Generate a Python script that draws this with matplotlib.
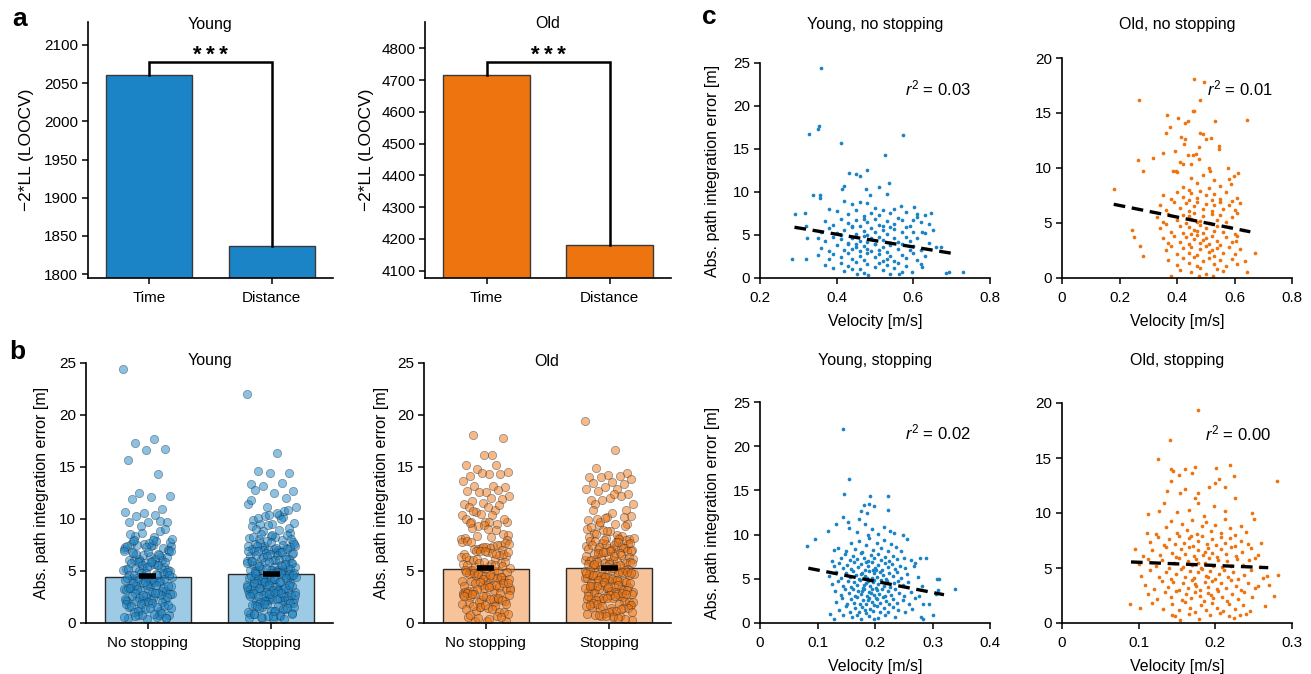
import numpy as np
import matplotlib
matplotlib.use("Agg")
import matplotlib.pyplot as plt

plt.rcParams['font.family'] = ['Liberation Sans', 'DejaVu Sans']
plt.rcParams['mathtext.fontset'] = 'custom'
plt.rcParams['mathtext.rm'] = 'Liberation Sans'
plt.rcParams['mathtext.it'] = 'Liberation Sans:italic'

BLUE = '#1b84c6'
ORANGE = '#ee7410'
LIGHT_BLUE = '#9dcbe6'
LIGHT_ORANGE = '#f7c39a'
FS = 11
LFS = 11.5

# panel a: model comparison
model_names = ['Time', 'Distance']
young_ll = [2060, 1837]
old_ll = [4715, 4180]
young_bracket = 2078
old_bracket = 4757

# panel b: bar heights and means
cond_names = ['No stopping', 'Stopping']
young_bar = [4.45, 4.7]
old_bar = [5.2, 5.25]
young_mean = [4.5, 4.75]
old_mean = [5.3, 5.3]

# panel c: (velocity, error)
young_nostop = [
    (0.359, 24.4), (0.355, 17.7), (0.351, 17.3), (0.329, 16.7), (0.574, 16.6), (0.411, 15.7),
    (0.525, 14.3), (0.480, 12.5), (0.432, 12.2), (0.450, 12.1), (0.460, 11.9), (0.537, 11.0),
    (0.510, 10.6), (0.420, 10.7), (0.413, 10.4), (0.476, 10.3), (0.357, 9.7), (0.337, 9.7),
    (0.487, 9.7), (0.530, 9.8), (0.357, 9.3), (0.290, 7.4), (0.317, 7.5), (0.320, 6.1),
    (0.322, 4.7), (0.284, 2.2), (0.319, 2.2), (0.685, 0.6), (0.694, 0.75), (0.729, 0.75),
    (0.671, 3.6), (0.647, 7.6), (0.641, 6.3), (0.622, 5.3), (0.609, 7.1), (0.602, 8.3),
    (0.569, 8.4), (0.452, 0.5), (0.483, 0.4), (0.563, 0.5), (0.596, 0.75), (0.623, 1.3),
    (0.40, 7.8), (0.43, 7.4), (0.45, 7.9), (0.47, 7.2), (0.49, 7.6), (0.51, 7.3), (0.52, 7.9),
    (0.54, 7.5), (0.56, 7.0), (0.58, 7.7), (0.44, 8.6), (0.46, 8.8), (0.48, 8.7), (0.50, 8.1),
    (0.55, 8.0), (0.38, 8.0), (0.42, 9.0), (0.63, 7.3), (0.61, 7.4),
    (0.37, 6.6), (0.39, 6.2), (0.41, 6.9), (0.43, 6.4), (0.45, 6.8), (0.46, 6.1), (0.48, 6.5),
    (0.50, 6.9), (0.51, 6.2), (0.53, 6.6), (0.55, 6.3), (0.57, 6.8), (0.59, 6.1), (0.62, 6.5),
    (0.44, 6.0), (0.47, 6.9), (0.52, 6.0), (0.60, 6.7),
    (0.36, 5.4), (0.38, 5.8), (0.40, 5.2), (0.42, 5.6), (0.44, 5.9), (0.45, 5.1), (0.47, 5.5),
    (0.49, 5.8), (0.50, 5.3), (0.52, 5.6), (0.53, 5.1), (0.55, 5.7), (0.57, 5.3), (0.58, 5.9),
    (0.60, 5.4), (0.63, 5.2), (0.65, 5.6), (0.41, 5.0), (0.48, 5.0), (0.54, 5.9),
    (0.37, 4.3), (0.39, 4.8), (0.41, 4.5), (0.43, 4.1), (0.44, 4.7), (0.46, 4.3), (0.47, 4.9),
    (0.48, 4.2), (0.49, 4.6), (0.50, 4.0), (0.51, 4.8), (0.52, 4.4), (0.54, 4.1), (0.55, 4.6),
    (0.56, 4.2), (0.58, 4.8), (0.59, 4.3), (0.61, 4.6), (0.64, 4.1), (0.35, 4.6), (0.45, 4.0),
    (0.36, 3.5), (0.38, 3.1), (0.40, 3.8), (0.42, 3.3), (0.43, 3.9), (0.45, 3.6), (0.46, 3.1),
    (0.47, 3.7), (0.48, 3.4), (0.50, 3.9), (0.51, 3.2), (0.52, 3.6), (0.53, 3.0), (0.54, 3.8),
    (0.56, 3.4), (0.57, 3.9), (0.59, 3.2), (0.60, 3.7), (0.62, 3.3), (0.66, 3.6), (0.49, 3.1),
    (0.44, 3.4),
    (0.35, 2.7), (0.38, 2.2), (0.39, 2.8), (0.41, 2.4), (0.43, 2.9), (0.44, 2.2), (0.46, 2.6),
    (0.47, 2.1), (0.48, 2.9), (0.50, 2.4), (0.51, 2.8), (0.53, 2.2), (0.54, 2.6), (0.55, 2.0),
    (0.57, 2.7), (0.58, 2.3), (0.60, 2.9), (0.61, 2.1), (0.63, 2.5), (0.52, 2.0),
    (0.37, 1.5), (0.39, 1.2), (0.41, 1.8), (0.43, 1.4), (0.45, 1.9), (0.46, 1.1), (0.48, 1.6),
    (0.50, 1.3), (0.51, 1.8), (0.53, 1.5), (0.55, 1.2), (0.56, 1.7), (0.58, 1.4), (0.62, 1.6),
    (0.44, 1.0), (0.42, 0.8), (0.47, 0.6), (0.52, 0.9), (0.57, 0.7), (0.54, 0.5),
]

old_nostop = [
    (0.180, 8.1), (0.269, 16.2), (0.460, 18.1), (0.495, 17.8), (0.479, 16.2), (0.454, 15.2),
    (0.460, 15.2), (0.365, 14.8), (0.405, 14.5), (0.437, 14.3), (0.429, 14.1), (0.531, 14.3),
    (0.645, 14.4), (0.374, 13.7), (0.362, 13.2), (0.481, 13.2), (0.490, 13.1), (0.502, 12.6),
    (0.518, 12.7), (0.415, 12.8), (0.429, 12.6), (0.425, 12.2), (0.547, 12.0), (0.547, 11.7),
    (0.477, 11.9), (0.394, 11.5), (0.353, 11.4), (0.318, 10.9), (0.266, 10.7), (0.281, 9.7),
    (0.438, 11.2), (0.457, 11.2), (0.467, 11.3), (0.409, 10.5), (0.420, 10.4), (0.449, 10.4),
    (0.478, 10.8), (0.512, 10.0), (0.516, 9.7), (0.577, 10.0), (0.611, 9.5), (0.597, 9.3),
    (0.588, 8.5), (0.386, 9.7), (0.397, 9.7), (0.243, 4.4), (0.249, 3.7), (0.272, 2.9),
    (0.283, 2.0), (0.380, 0.2), (0.475, 0.15), (0.525, 0.15), (0.643, 0.55), (0.670, 2.3),
    (0.635, 1.5), (0.606, 3.4),
    (0.42, 8.3), (0.45, 9.1), (0.47, 8.6), (0.49, 9.4), (0.51, 8.2), (0.53, 8.9), (0.55, 8.4),
    (0.44, 8.0), (0.58, 9.0), (0.40, 9.6),
    (0.35, 7.5), (0.38, 7.2), (0.40, 7.8), (0.42, 7.4), (0.44, 7.1), (0.45, 7.7), (0.47, 7.3),
    (0.48, 7.9), (0.50, 7.5), (0.52, 7.1), (0.53, 7.6), (0.55, 7.2), (0.57, 7.8), (0.59, 7.0),
    (0.61, 7.3),
    (0.34, 6.6), (0.36, 6.2), (0.39, 6.9), (0.41, 6.4), (0.43, 6.8), (0.44, 6.1), (0.46, 6.5),
    (0.47, 6.9), (0.49, 6.3), (0.50, 6.7), (0.52, 6.1), (0.53, 6.6), (0.55, 6.9), (0.56, 6.3),
    (0.58, 6.6), (0.60, 6.2), (0.62, 6.8),
    (0.33, 5.5), (0.35, 5.1), (0.37, 5.8), (0.40, 5.3), (0.42, 5.7), (0.43, 5.0), (0.45, 5.4),
    (0.46, 5.9), (0.48, 5.2), (0.49, 5.6), (0.51, 5.0), (0.52, 5.8), (0.54, 5.3), (0.55, 5.7),
    (0.57, 5.1), (0.59, 5.5), (0.61, 5.9), (0.47, 5.05), (0.44, 5.6),
    (0.34, 4.5), (0.36, 4.9), (0.38, 4.2), (0.41, 4.7), (0.42, 4.1), (0.44, 4.6), (0.45, 4.0),
    (0.46, 4.4), (0.48, 4.8), (0.49, 4.1), (0.50, 4.5), (0.52, 4.9), (0.53, 4.3), (0.54, 4.7),
    (0.56, 4.2), (0.58, 4.6), (0.60, 4.0), (0.63, 4.4), (0.47, 4.25),
    (0.35, 3.6), (0.37, 3.2), (0.39, 3.8), (0.41, 3.3), (0.43, 3.7), (0.44, 3.1), (0.46, 3.5),
    (0.47, 3.9), (0.48, 3.2), (0.50, 3.6), (0.51, 3.1), (0.52, 3.8), (0.54, 3.4), (0.55, 3.0),
    (0.57, 3.7), (0.59, 3.3), (0.61, 3.8), (0.49, 3.45),
    (0.36, 2.5), (0.38, 2.9), (0.40, 2.2), (0.42, 2.7), (0.44, 2.3), (0.45, 2.8), (0.47, 2.1),
    (0.48, 2.6), (0.50, 2.9), (0.51, 2.4), (0.53, 2.0), (0.54, 2.7), (0.56, 2.3), (0.58, 2.8),
    (0.60, 2.2), (0.62, 2.6), (0.52, 2.55),
    (0.37, 1.6), (0.40, 1.2), (0.42, 1.8), (0.44, 1.4), (0.46, 1.9), (0.47, 1.1), (0.49, 1.5),
    (0.51, 1.8), (0.53, 1.3), (0.55, 1.6), (0.57, 1.1), (0.59, 1.7), (0.61, 1.3),
    (0.41, 0.7), (0.45, 0.5), (0.48, 0.9), (0.50, 0.4), (0.54, 0.8), (0.56, 0.6),
]

young_stop = [
    (0.144, 22.0), (0.155, 16.3), (0.146, 14.6), (0.191, 14.4), (0.222, 14.4), (0.180, 13.4),
    (0.190, 13.5), (0.199, 13.2), (0.176, 12.7), (0.186, 12.5), (0.223, 12.8), (0.145, 12.0),
    (0.133, 11.2), (0.153, 11.4), (0.119, 10.4), (0.095, 9.5), (0.081, 8.7), (0.255, 9.5),
    (0.248, 9.9), (0.233, 10.2), (0.288, 7.4), (0.278, 7.4), (0.270, 6.8), (0.307, 5.0),
    (0.312, 4.95), (0.339, 3.9), (0.301, 0.87), (0.280, 0.68), (0.283, 0.5), (0.122, 1.0),
    (0.128, 0.4), (0.144, 0.9), (0.284, 2.2), (0.294, 2.2), (0.310, 3.7), (0.306, 3.3),
    (0.150, 8.1), (0.158, 9.1), (0.165, 8.4), (0.172, 9.3), (0.178, 8.0), (0.185, 8.8),
    (0.190, 9.6), (0.197, 8.3), (0.203, 9.0), (0.210, 8.5), (0.215, 9.4), (0.222, 8.2),
    (0.228, 8.9), (0.236, 8.6), (0.245, 8.1), (0.135, 8.5), (0.128, 8.3),
    (0.155, 10.8), (0.168, 10.3), (0.182, 11.2), (0.195, 10.6), (0.205, 10.1), (0.216, 10.9),
    (0.226, 10.4), (0.173, 11.8), (0.188, 10.0),
    (0.140, 7.3), (0.148, 7.8), (0.156, 7.1), (0.162, 7.6), (0.169, 7.2), (0.175, 7.9),
    (0.181, 7.4), (0.187, 7.0), (0.193, 7.7), (0.199, 7.3), (0.205, 7.8), (0.211, 7.1),
    (0.218, 7.5), (0.224, 7.0), (0.231, 7.6), (0.239, 7.2), (0.250, 7.4), (0.262, 7.1),
    (0.125, 7.0),
    (0.128, 6.4), (0.137, 6.8), (0.145, 6.2), (0.152, 6.6), (0.159, 6.1), (0.164, 6.9),
    (0.170, 6.3), (0.176, 6.7), (0.182, 6.0), (0.188, 6.5), (0.194, 6.9), (0.200, 6.2),
    (0.206, 6.6), (0.212, 6.0), (0.217, 6.8), (0.223, 6.3), (0.229, 6.7), (0.235, 6.1),
    (0.243, 6.5), (0.252, 6.2), (0.268, 6.4), (0.185, 6.9), (0.197, 6.05),
    (0.120, 5.3), (0.132, 5.8), (0.141, 5.1), (0.149, 5.6), (0.156, 5.2), (0.161, 5.9),
    (0.167, 5.4), (0.172, 5.0), (0.178, 5.7), (0.183, 5.3), (0.189, 5.9), (0.194, 5.1),
    (0.199, 5.6), (0.204, 5.2), (0.209, 5.8), (0.214, 5.4), (0.219, 5.0), (0.225, 5.7),
    (0.231, 5.3), (0.238, 5.8), (0.246, 5.1), (0.255, 5.5), (0.274, 5.2), (0.186, 5.05),
    (0.201, 5.95), (0.176, 5.5),
    (0.125, 4.4), (0.136, 4.8), (0.145, 4.2), (0.153, 4.7), (0.159, 4.1), (0.164, 4.6),
    (0.169, 4.3), (0.174, 4.9), (0.179, 4.0), (0.184, 4.5), (0.188, 4.8), (0.192, 4.2),
    (0.196, 4.6), (0.201, 4.0), (0.205, 4.4), (0.210, 4.9), (0.215, 4.2), (0.220, 4.7),
    (0.226, 4.1), (0.233, 4.5), (0.240, 4.8), (0.248, 4.3), (0.258, 4.6), (0.282, 4.2),
    (0.198, 4.85), (0.181, 4.35),
    (0.130, 3.6), (0.140, 3.2), (0.148, 3.9), (0.155, 3.4), (0.161, 3.8), (0.166, 3.1),
    (0.171, 3.6), (0.176, 3.3), (0.181, 3.9), (0.186, 3.0), (0.190, 3.5), (0.194, 3.8),
    (0.198, 3.2), (0.203, 3.7), (0.207, 3.3), (0.212, 3.9), (0.217, 3.1), (0.222, 3.6),
    (0.228, 3.2), (0.235, 3.8), (0.242, 3.4), (0.251, 3.0), (0.263, 3.5), (0.276, 3.1),
    (0.193, 3.35), (0.178, 3.65),
    (0.133, 2.4), (0.143, 2.8), (0.151, 2.2), (0.158, 2.7), (0.164, 2.3), (0.169, 2.9),
    (0.174, 2.1), (0.179, 2.6), (0.184, 2.2), (0.189, 2.8), (0.194, 2.4), (0.199, 2.0),
    (0.204, 2.7), (0.209, 2.3), (0.214, 2.9), (0.219, 2.5), (0.225, 2.1), (0.232, 2.7),
    (0.239, 2.3), (0.248, 2.6), (0.259, 2.2), (0.270, 2.8), (0.187, 2.55), (0.201, 2.85),
    (0.138, 1.5), (0.149, 1.9), (0.157, 1.2), (0.165, 1.7), (0.172, 1.3), (0.178, 1.8),
    (0.185, 1.1), (0.191, 1.6), (0.197, 1.4), (0.203, 1.9), (0.209, 1.2), (0.216, 1.7),
    (0.223, 1.3), (0.231, 1.8), (0.240, 1.5), (0.252, 1.2), (0.265, 1.6), (0.182, 1.45),
    (0.160, 0.7), (0.176, 0.5), (0.190, 0.8), (0.205, 0.6), (0.218, 0.9), (0.235, 0.7),
    (0.168, 0.9), (0.198, 0.4),
]

old_stop = [
    (0.178, 19.4), (0.141, 16.6), (0.125, 14.9), (0.219, 14.4), (0.174, 14.2), (0.160, 14.0),
    (0.201, 14.1), (0.142, 14.0), (0.145, 13.8), (0.169, 13.6), (0.153, 13.5), (0.224, 13.4),
    (0.205, 13.1), (0.281, 12.9), (0.142, 12.9), (0.199, 12.7), (0.212, 12.4), (0.137, 12.0),
    (0.154, 11.8), (0.160, 12.2), (0.178, 11.8), (0.173, 11.4), (0.192, 12.4), (0.226, 11.4),
    (0.133, 10.9), (0.126, 10.2), (0.112, 9.9), (0.111, 8.2), (0.095, 6.7), (0.089, 1.7),
    (0.102, 1.4), (0.265, 1.55), (0.276, 2.5), (0.282, 4.4), (0.268, 4.3), (0.259, 7.3),
    (0.248, 10.0), (0.251, 9.5), (0.252, 5.9), (0.255, 3.4), (0.232, 0.7), (0.218, 0.64),
    (0.154, 0.25), (0.144, 0.7),
    (0.135, 8.7), (0.142, 9.3), (0.150, 8.2), (0.157, 9.0), (0.163, 8.5), (0.170, 9.4),
    (0.176, 8.1), (0.182, 8.8), (0.188, 9.2), (0.194, 8.4), (0.200, 8.9), (0.207, 8.2),
    (0.213, 9.5), (0.219, 8.6), (0.226, 8.0), (0.233, 8.8), (0.240, 8.3), (0.122, 8.1),
    (0.185, 9.7), (0.165, 10.3), (0.198, 10.6), (0.177, 10.9), (0.212, 10.2), (0.150, 10.1),
    (0.115, 7.4), (0.125, 7.8), (0.133, 7.1), (0.140, 7.6), (0.147, 7.2), (0.153, 7.9),
    (0.159, 7.3), (0.165, 7.7), (0.171, 7.0), (0.177, 7.5), (0.183, 7.9), (0.189, 7.2),
    (0.195, 7.6), (0.201, 7.1), (0.207, 7.8), (0.213, 7.3), (0.219, 7.7), (0.226, 7.0),
    (0.234, 7.5), (0.243, 7.2), (0.168, 7.95),
    (0.105, 6.1), (0.118, 6.6), (0.128, 6.2), (0.136, 6.9), (0.143, 6.4), (0.149, 6.0),
    (0.155, 6.7), (0.161, 6.3), (0.166, 6.9), (0.172, 6.1), (0.178, 6.6), (0.184, 6.2),
    (0.190, 6.8), (0.196, 6.4), (0.202, 6.0), (0.208, 6.7), (0.214, 6.3), (0.220, 6.9),
    (0.227, 6.1), (0.235, 6.5), (0.246, 6.8), (0.255, 6.2), (0.187, 6.45),
    (0.100, 5.4), (0.112, 5.8), (0.122, 5.2), (0.131, 5.7), (0.139, 5.0), (0.146, 5.5),
    (0.152, 5.9), (0.158, 5.1), (0.164, 5.6), (0.170, 5.3), (0.175, 5.8), (0.181, 5.0),
    (0.186, 5.5), (0.192, 5.9), (0.197, 5.2), (0.203, 5.7), (0.209, 5.1), (0.215, 5.6),
    (0.221, 5.2), (0.228, 5.8), (0.236, 5.3), (0.244, 5.7), (0.258, 5.1), (0.178, 5.45),
    (0.103, 4.3), (0.115, 4.8), (0.126, 4.2), (0.135, 4.6), (0.142, 4.0), (0.149, 4.5),
    (0.155, 4.9), (0.161, 4.2), (0.167, 4.7), (0.172, 4.1), (0.178, 4.6), (0.183, 4.9),
    (0.188, 4.3), (0.193, 4.7), (0.199, 4.0), (0.205, 4.5), (0.211, 4.8), (0.217, 4.2),
    (0.223, 4.6), (0.230, 4.0), (0.238, 4.4), (0.247, 4.8), (0.262, 4.1), (0.190, 4.15),
    (0.108, 3.5), (0.120, 3.1), (0.130, 3.8), (0.138, 3.3), (0.145, 3.7), (0.152, 3.0),
    (0.158, 3.6), (0.164, 3.2), (0.169, 3.9), (0.175, 3.4), (0.180, 3.0), (0.186, 3.7),
    (0.191, 3.3), (0.196, 3.8), (0.202, 3.1), (0.208, 3.6), (0.214, 3.2), (0.220, 3.9),
    (0.227, 3.4), (0.234, 3.0), (0.242, 3.6), (0.252, 3.2), (0.270, 3.5), (0.173, 3.55),
    (0.112, 2.6), (0.124, 2.2), (0.134, 2.8), (0.142, 2.4), (0.149, 2.9), (0.156, 2.1),
    (0.162, 2.6), (0.168, 2.3), (0.174, 2.8), (0.180, 2.5), (0.185, 2.0), (0.191, 2.7),
    (0.197, 2.3), (0.203, 2.9), (0.209, 2.4), (0.215, 2.0), (0.222, 2.6), (0.229, 2.2),
    (0.237, 2.8), (0.248, 2.4), (0.194, 2.55),
    (0.118, 1.8), (0.132, 1.3), (0.144, 1.7), (0.153, 1.2), (0.160, 1.9), (0.167, 1.4),
    (0.174, 1.0), (0.181, 1.6), (0.188, 1.2), (0.195, 1.8), (0.202, 1.4), (0.210, 1.1),
    (0.218, 1.7), (0.226, 1.3), (0.236, 1.6), (0.245, 1.1),
    (0.148, 0.6), (0.165, 0.8), (0.179, 0.4), (0.193, 0.7), (0.206, 0.9), (0.224, 0.5),
    (0.240, 0.8),
]

# regression line end points and r^2 values
fit_yn = ([0.29, 0.71], [5.9, 2.8])
fit_on = ([0.18, 0.655], [6.7, 4.2])
fit_ys = ([0.084, 0.32], [6.2, 3.2])
fit_os = ([0.09, 0.269], [5.55, 5.03])
r2_values = ['0.03', '0.01', '0.02', '0.00']

W, H = 1311, 674
fig = plt.figure(figsize=(W / 100, H / 100), dpi=100)


def px_axes(left, right, top, bottom):
    return fig.add_axes([left / W, 1 - bottom / H, (right - left) / W, (bottom - top) / H])


def style(ax):
    for s in ['top', 'right']:
        ax.spines[s].set_visible(False)
    for s in ['left', 'bottom']:
        ax.spines[s].set_linewidth(1.2)
    ax.tick_params(direction='out', length=4, width=1.1, labelsize=FS)
    ax.tick_params(axis='x', pad=5.5)
    ax.tick_params(axis='y', pad=3)


# ---- panel a ----
def model_panel(ax, vals, bracket, ylim, ticks, color, label_x):
    style(ax)
    x = np.arange(len(vals))
    ax.bar(x, vals, width=0.7, color=color, edgecolor='#3a3a3a', linewidth=1)
    ax.plot([0, 0, 1, 1], [vals[0], bracket, bracket, vals[1]], color='k', lw=1.8,
            solid_joinstyle='miter')
    ax.annotate('*\u2009*\u2009*', (0.5, bracket), xytext=(0, 0.5), textcoords='offset points',
                ha='center', va='baseline', fontsize=16, fontweight='bold')
    ax.set_xlim(-0.5, 1.5)
    ax.set_ylim(*ylim)
    ax.set_yticks(ticks)
    ax.set_xticks(x)
    ax.set_xticklabels(model_names)
    ax.set_ylabel('\u22122*LL (LOOCV)', fontsize=12.5)
    ax.yaxis.set_label_coords(label_x, 0.5)


ax = px_axes(88, 333, 22, 278)
model_panel(ax, young_ll, young_bracket, (1795, 2130), np.arange(1800, 2101, 50), BLUE, -0.22)
ax = px_axes(425, 671, 22, 278)
model_panel(ax, old_ll, old_bracket, (4077, 4883), np.arange(4100, 4801, 100), ORANGE, -0.207)


# ---- panel b ----
def error_panel(ax, bars, means, groups, color, light, label_x):
    style(ax)
    x = np.arange(len(bars))
    ax.bar(x, bars, width=0.7, color=light, edgecolor='#2a2a2a', linewidth=1, zorder=1)
    for i, g in enumerate(groups):
        err = np.array(g)[:, 1]
        n = len(err)
        offs = ((np.arange(n) * 0.6180339887) % 1.0 - 0.5) * 0.40
        ax.scatter(x[i] + offs, err, s=36, facecolor=color, edgecolor='#1e2e3e',
                   linewidth=0.5, alpha=0.5, zorder=2)
        ax.plot([x[i] - 0.07, x[i] + 0.07], [means[i], means[i]], color='k', lw=4,
                solid_capstyle='butt', zorder=4)
    ax.set_xlim(-0.5, 1.5)
    ax.set_ylim(0, 25)
    ax.set_yticks([0, 5, 10, 15, 20, 25])
    ax.set_xticks(x)
    ax.set_xticklabels(cond_names)
    ax.set_ylabel('Abs. path integration error [m]', fontsize=LFS)
    ax.yaxis.set_label_coords(label_x, 0.5)


ax = px_axes(86, 333, 363, 623)
error_panel(ax, young_bar, young_mean, [young_nostop, young_stop], BLUE, LIGHT_BLUE, -0.15)
ax = px_axes(424, 671, 363, 623)
error_panel(ax, old_bar, old_mean, [old_nostop, old_stop], ORANGE, LIGHT_ORANGE, -0.142)


# ---- panel c ----
def vel_panel(ax, pts, fit, r2, color, xlim, xticks, xlabels, ylim, yticks, r2_pos, ylab):
    style(ax)
    arr = np.array(pts)
    ax.scatter(arr[:, 0], arr[:, 1], s=7, color=color, linewidth=0, zorder=2)
    ax.plot(fit[0], fit[1], color='k', lw=2.4, linestyle=(0, (3.5, 2.0)), zorder=3)
    ax.text(r2_pos[0], r2_pos[1], r'$r^2$ = ' + r2, fontsize=12, ha='left', va='center',
            transform=ax.transAxes)
    ax.set_xlim(*xlim)
    ax.set_xticks(xticks)
    ax.set_xticklabels(xlabels)
    ax.set_ylim(*ylim)
    ax.set_yticks(yticks)
    ax.set_xlabel('Velocity [m/s]', fontsize=LFS, labelpad=6)
    if ylab:
        ax.set_ylabel('Abs. path integration error [m]', fontsize=LFS)
        ax.yaxis.set_label_coords(-0.174, 0.5)


ax = px_axes(760, 990, 63, 278)
vel_panel(ax, young_nostop, fit_yn, r2_values[0], BLUE, (0.2, 0.8), [0.2, 0.4, 0.6, 0.8],
          ['0.2', '0.4', '0.6', '0.8'], (0, 25), [0, 5, 10, 15, 20, 25], (0.63, 0.88), True)
ax = px_axes(1062, 1292, 58, 278)
vel_panel(ax, old_nostop, fit_on, r2_values[1], ORANGE, (0, 0.8), [0, 0.2, 0.4, 0.6, 0.8],
          ['0', '0.2', '0.4', '0.6', '0.8'], (0, 20), [0, 5, 10, 15, 20], (0.63, 0.86), False)
ax = px_axes(760, 990, 402, 623)
vel_panel(ax, young_stop, fit_ys, r2_values[2], BLUE, (0, 0.4), [0, 0.1, 0.2, 0.3, 0.4],
          ['0', '0.1', '0.2', '0.3', '0.4'], (0, 25), [0, 5, 10, 15, 20, 25], (0.63, 0.86), True)
ax = px_axes(1062, 1292, 403, 623)
vel_panel(ax, old_stop, fit_os, r2_values[3], ORANGE, (0, 0.3), [0, 0.1, 0.2, 0.3],
          ['0', '0.1', '0.2', '0.3'], (0, 20), [0, 5, 10, 15, 20], (0.62, 0.86), False)

# titles and panel letters
titles = [('Young', 210, 24), ('Old', 548, 24), ('Young', 210, 361), ('Old', 547, 361),
          ('Young, no stopping', 875, 24), ('Old, no stopping', 1177, 24),
          ('Young, stopping', 875, 361), ('Old, stopping', 1177, 361)]
for t, xp, yp in titles:
    fig.text(xp / W, 1 - yp / H, t, ha='center', va='center', fontsize=11.5)

for lab, xp, yp in [('a', 12, 19), ('b', 9, 352), ('c', 702, 17)]:
    fig.text(xp / W, 1 - yp / H, lab, ha='left', va='center', fontsize=19, fontweight='bold')

fig.savefig('out.png', dpi=100)
